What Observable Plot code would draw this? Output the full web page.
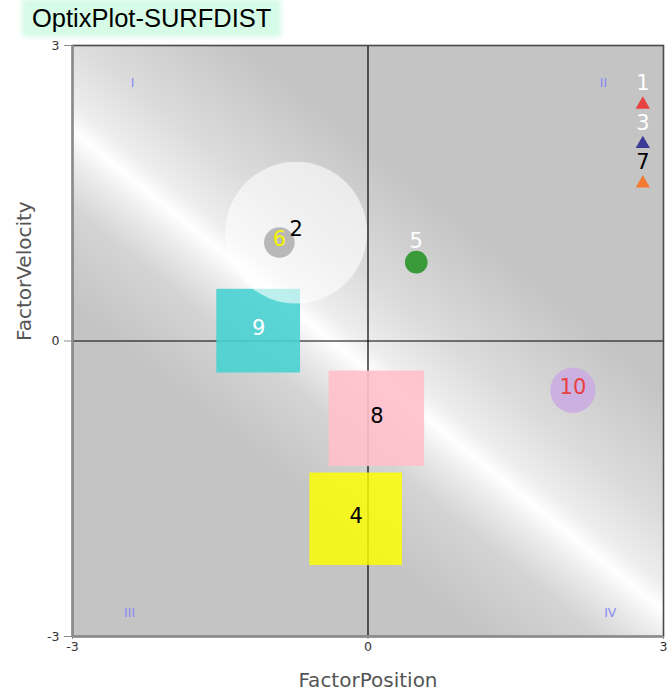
<!DOCTYPE html>
<html><head><meta charset="utf-8">
<script src="https://cdn.jsdelivr.net/npm/d3@7"></script>
<script src="https://cdn.jsdelivr.net/npm/@observablehq/plot@0.6"></script>
<style>
html,body{margin:0;padding:0;background:#fff;}
#title{position:relative;height:36px;}
#title span{position:absolute;left:26px;top:3px;padding:0 6px;font-family:"Liberation Sans",Arial,sans-serif;font-size:25.5px;line-height:30px;background:#d6fbe7;box-shadow:0 0 5px 4px #d6fbe7;color:#000;}
#chart svg{display:block;}
</style></head><body>
<div id="title"><span>OptixPlot-SURFDIST</span></div>
<div id="chart"></div>
<script>
// ---- data ----
const ids      = ["1", "2", "3", "4", "5", "6", "7", "8", "9", "10"];
const posX     = [2.79, -0.73, 2.79, -0.12, 0.49, -0.90, 2.79, 0.09, -1.11, 2.08];
const velY     = [2.40, 1.10, 2.00, -1.81, 0.80, 1.00, 1.60, -0.79, 0.10, -0.50];
const shapes   = ["triangle","circle","triangle","square","circle","circle","triangle","square","square","circle"];
const sizes    = [0, 1.44, 0, 0.94, 0.23, 0.31, 0, 0.97, 0.85, 0.46];
const fills    = ["#e8413f","rgba(255,255,255,0.6)","#3b3b96","rgba(255,255,0,0.82)","#3a9a3a","#b8b8b8","#f47a30","rgba(255,192,203,0.9)","rgba(72,210,210,0.9)","#cbb0e0"];
const labelColors = ["#ffffff","#000000","#ffffff","#000000","#ffffff","#f5f500","#000000","#000000","#ffffff","#e8413f"];
const quadLabels = ["I", "II", "III", "IV"];
const quadX      = [-2.39, 2.39, -2.42, 2.46];
const quadY      = [2.62, 2.62, -2.76, -2.76];
const xTicks = [-3, 0, 3];
const yTicks = [-3, 0, 3];
const xDomain = [-3, 3], yDomain = [-3, 3];

// ---- layout ----
const W = 668, H = 659, mL = 72, mR = 5, mT = 9, mB = 59;
const pxPerUnit = (W - mL - mR) / (xDomain[1] - xDomain[0]);

const points = ids.map((id, i) => ({id, x: posX[i], y: velY[i], shape: shapes[i], s: sizes[i], fill: fills[i], lc: labelColors[i]}));
const squares = points.filter(d => d.shape === "square");
const circles = points.filter(d => d.shape === "circle");
const tris = points.filter(d => d.shape === "triangle");
const above = d => d.shape === "triangle" || (d.shape === "circle" && d.s < 0.25);
const quads = quadLabels.map((t, i) => ({t, x: quadX[i], y: quadY[i]}));
const fmt = d => String(d);

const svg = Plot.plot({
  width: W, height: H,
  marginLeft: mL, marginRight: mR, marginTop: mT, marginBottom: mB,
  x: {domain: xDomain},
  y: {domain: yDomain},
  r: {type: "linear", domain: [0, 1], range: [0, pxPerUnit]},
  color: {type: "identity"},
  style: {fontFamily: "DejaVu Sans", fontSize: "12.5px", color: "#333", background: "transparent"},
  marks: [
    Plot.frame({fill: "url(#bgGrad)"}),
    Plot.ruleX([0], {stroke: "#000", strokeWidth: 1.2}),
    Plot.ruleY([0], {stroke: "#000", strokeWidth: 1.2}),
    Plot.text(quads, {x: "x", y: "y", text: "t", fill: "#8a8af5", fontSize: 12.5, fontFamily: "DejaVu Sans"}),
    Plot.rect(squares, {x1: d => d.x - d.s / 2, x2: d => d.x + d.s / 2, y1: d => d.y - d.s / 2, y2: d => d.y + d.s / 2, fill: "fill"}),
    Plot.dot(circles, {x: "x", y: "y", r: d => d.s / 2, fill: "fill", stroke: null}),
    Plot.dot(tris, {x: "x", y: "y", symbol: "triangle", r: 5.3, fill: "fill", stroke: null}),
    Plot.text(points.filter(d => !above(d)), {x: "x", y: "y", text: "id", fill: "lc", fontSize: 21, dy: -3, fontFamily: "DejaVu Sans"}),
    Plot.text(points.filter(above), {x: "x", y: "y", text: "id", fill: "lc", fontSize: 21, dy: -21, fontFamily: "DejaVu Sans"}),
    Plot.frame({stroke: "#4a4a4a", strokeWidth: 1.6}),
    Plot.ruleX([xDomain[0]], {stroke: "#8c8c8c", strokeWidth: 2.5}),
    Plot.ruleY([yDomain[0]], {stroke: "#8c8c8c", strokeWidth: 2.5}),
    Plot.axisY({ticks: yTicks, tickFormat: fmt, tickSize: 8, tickPadding: 5, stroke: "#8c8c8c", fill: "#333", label: null}),
    Plot.axisX({ticks: xTicks, tickFormat: fmt, tickSize: 3, tickPadding: 3, stroke: "#8c8c8c", fill: "#333", label: null}),
    Plot.text(["FactorPosition"], {frameAnchor: "bottom", dy: 50, fontSize: 20, fill: "#555", fontFamily: "DejaVu Sans"}),
    Plot.text(["FactorVelocity"], {frameAnchor: "left", dx: -48, rotate: -90, fontSize: 20, fill: "#555", fontFamily: "DejaVu Sans"})
  ]
});

// background gradient (style only)
const ns = "http://www.w3.org/2000/svg";
const defs = document.createElementNS(ns, "defs");
const lg = document.createElementNS(ns, "linearGradient");
lg.setAttribute("id", "bgGrad");
lg.setAttribute("x1", "0.083"); lg.setAttribute("y1", "1.066");
lg.setAttribute("x2", "0.969"); lg.setAttribute("y2", "-0.025");
[[0, "#c4c4c4"], [0.31, "#c4c4c4"], [0.40, "#d4d4d4"], [0.448, "#eeeeee"], [0.472, "#ffffff"], [0.495, "#eeeeee"], [0.56, "#dbdbdb"], [0.68, "#c4c4c4"], [1, "#c4c4c4"]]
  .forEach(([o, c]) => {
    const s = document.createElementNS(ns, "stop");
    s.setAttribute("offset", o); s.setAttribute("stop-color", c);
    lg.appendChild(s);
  });
defs.appendChild(lg);
svg.insertBefore(defs, svg.firstChild);
document.getElementById("chart").appendChild(svg);
</script></body></html>
